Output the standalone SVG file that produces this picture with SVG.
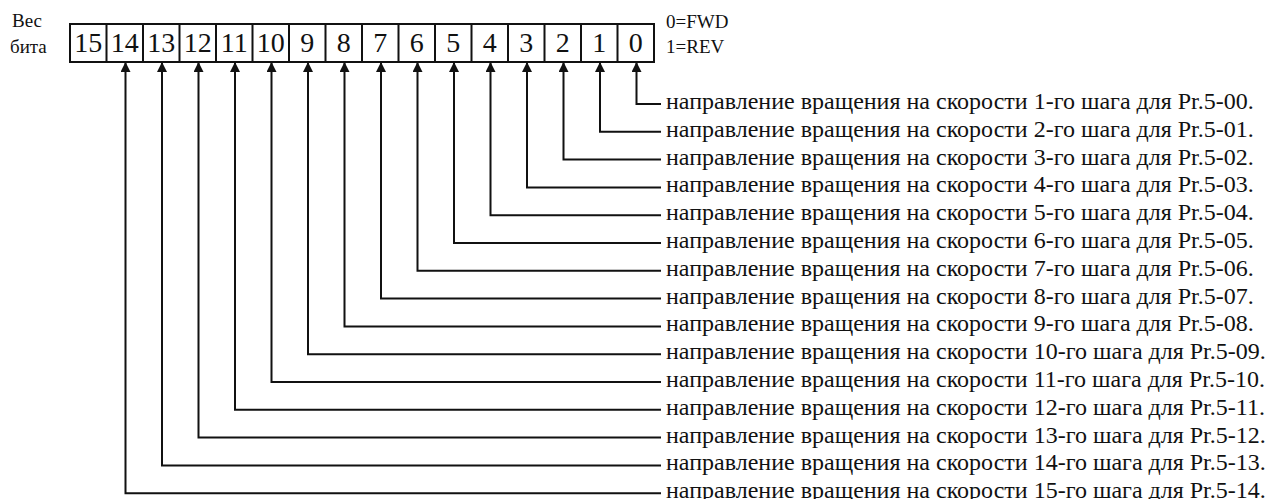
<svg xmlns="http://www.w3.org/2000/svg" width="1270" height="499" viewBox="0 0 1270 499">
<style>
text{font-family:"Liberation Serif","Times New Roman",serif;fill:#111}
.bit{font-size:28px;text-anchor:middle}
.hdr{font-size:19px}
.lbl{font-size:24px}
.cell{fill:#fff;stroke:#111;stroke-width:2}
.conn{fill:none;stroke:#111;stroke-width:2}
</style>
<defs>
<marker id="ah" markerWidth="10" markerHeight="10" refX="9" refY="5" orient="auto" markerUnits="userSpaceOnUse" viewBox="0 0 10 10">
<path d="M0,0 L10,5 L0,10 Z" fill="#111"/>
</marker>
</defs>
<rect width="1270" height="499" fill="#fff"/>
<g id="header">
<text class="hdr" x="12" y="27">Вес</text>
<text class="hdr" x="10" y="53">бита</text>
<text class="hdr" x="666" y="28">0=FWD</text>
<text class="hdr" x="666" y="53">1=REV</text>
</g>
<g id="register">
<rect class="cell" x="70" y="24" width="584" height="38"/>
<path class="conn" d="M106.5,24V62M143,24V62M179.5,24V62M216,24V62M252.5,24V62M289,24V62M325.5,24V62M362,24V62M398.5,24V62M435,24V62M471.5,24V62M508,24V62M544.5,24V62M581,24V62M617.5,24V62"/>
<text class="bit" x="88.3" y="52">15</text>
<text class="bit" x="124.8" y="52">14</text>
<text class="bit" x="161.3" y="52">13</text>
<text class="bit" x="197.8" y="52">12</text>
<text class="bit" x="234.3" y="52">11</text>
<text class="bit" x="270.8" y="52">10</text>
<text class="bit" x="307.3" y="52">9</text>
<text class="bit" x="343.8" y="52">8</text>
<text class="bit" x="380.3" y="52">7</text>
<text class="bit" x="416.8" y="52">6</text>
<text class="bit" x="453.3" y="52">5</text>
<text class="bit" x="489.8" y="52">4</text>
<text class="bit" x="526.3" y="52">3</text>
<text class="bit" x="562.8" y="52">2</text>
<text class="bit" x="599.3" y="52">1</text>
<text class="bit" x="635.8" y="52">0</text>
</g>
<g id="connectors">
<path class="conn" marker-end="url(#ah)" d="M661,104H636.5V63"/>
<path class="conn" marker-end="url(#ah)" d="M661,131.8H600V63"/>
<path class="conn" marker-end="url(#ah)" d="M661,159.6H563.5V63"/>
<path class="conn" marker-end="url(#ah)" d="M661,187.4H527V63"/>
<path class="conn" marker-end="url(#ah)" d="M661,215.2H490.5V63"/>
<path class="conn" marker-end="url(#ah)" d="M661,243H454V63"/>
<path class="conn" marker-end="url(#ah)" d="M661,270.8H417.5V63"/>
<path class="conn" marker-end="url(#ah)" d="M661,298.6H381V63"/>
<path class="conn" marker-end="url(#ah)" d="M661,326.4H344.5V63"/>
<path class="conn" marker-end="url(#ah)" d="M661,354.2H308V63"/>
<path class="conn" marker-end="url(#ah)" d="M661,382H271.5V63"/>
<path class="conn" marker-end="url(#ah)" d="M661,409.8H235V63"/>
<path class="conn" marker-end="url(#ah)" d="M661,437.6H198.5V63"/>
<path class="conn" marker-end="url(#ah)" d="M661,465.4H162V63"/>
<path class="conn" marker-end="url(#ah)" d="M661,493.2H125.5V63"/>
</g>
<g id="labels">
<text class="lbl" x="666" y="109">направление вращения на скорости 1-го шага для Pr.5-00.</text>
<text class="lbl" x="666" y="136.8">направление вращения на скорости 2-го шага для Pr.5-01.</text>
<text class="lbl" x="666" y="164.6">направление вращения на скорости 3-го шага для Pr.5-02.</text>
<text class="lbl" x="666" y="192.4">направление вращения на скорости 4-го шага для Pr.5-03.</text>
<text class="lbl" x="666" y="220.2">направление вращения на скорости 5-го шага для Pr.5-04.</text>
<text class="lbl" x="666" y="248">направление вращения на скорости 6-го шага для Pr.5-05.</text>
<text class="lbl" x="666" y="275.8">направление вращения на скорости 7-го шага для Pr.5-06.</text>
<text class="lbl" x="666" y="303.6">направление вращения на скорости 8-го шага для Pr.5-07.</text>
<text class="lbl" x="666" y="331.4">направление вращения на скорости 9-го шага для Pr.5-08.</text>
<text class="lbl" x="666" y="359.2">направление вращения на скорости 10-го шага для Pr.5-09.</text>
<text class="lbl" x="666" y="387">направление вращения на скорости 11-го шага для Pr.5-10.</text>
<text class="lbl" x="666" y="414.8">направление вращения на скорости 12-го шага для Pr.5-11.</text>
<text class="lbl" x="666" y="442.6">направление вращения на скорости 13-го шага для Pr.5-12.</text>
<text class="lbl" x="666" y="470.4">направление вращения на скорости 14-го шага для Pr.5-13.</text>
<text class="lbl" x="666" y="497.5">направление вращения на скорости 15-го шага для Pr.5-14.</text>
</g>
</svg>
